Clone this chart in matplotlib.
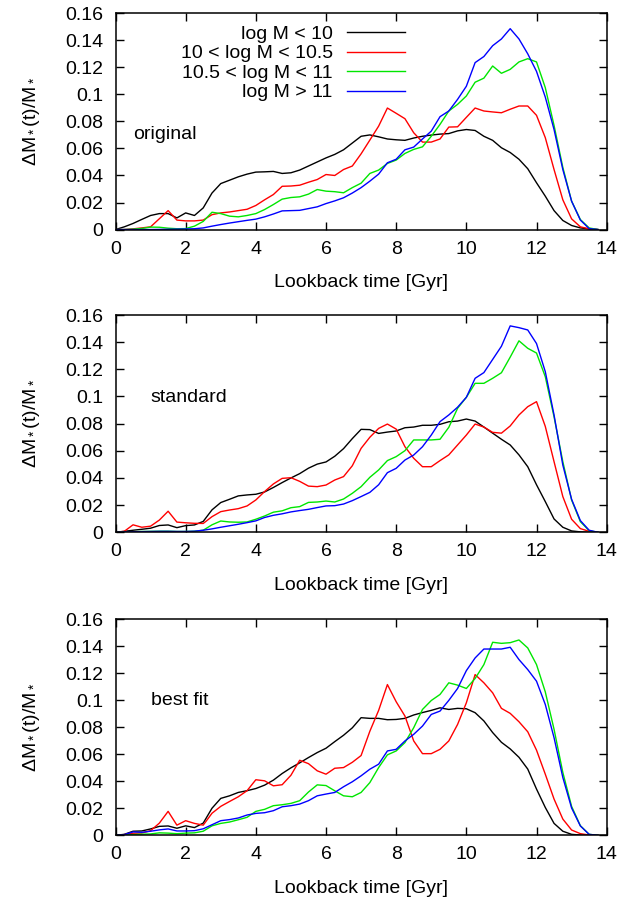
"""
Star formation histories per stellar mass bin - three model variants
"""

import matplotlib
matplotlib.use('Agg')
import matplotlib.pyplot as plt
from matplotlib.ticker import FormatStrFormatter, MultipleLocator

# lookback time grid [Gyr]
lookback = [0.0, 0.25, 0.5, 0.75, 1.0, 1.25, 1.5, 1.75, 2.0, 2.25, 2.5, 2.75,
            3.0, 3.25, 3.5, 3.75, 4.0, 4.25, 4.5, 4.75, 5.0, 5.25, 5.5, 5.75,
            6.0, 6.25, 6.5, 6.75, 7.0, 7.25, 7.5, 7.75, 8.0, 8.25, 8.5, 8.75,
            9.0, 9.25, 9.5, 9.75, 10.0, 10.25, 10.5, 10.75, 11.0, 11.25, 11.5,
            11.75, 12.0, 12.25, 12.5, 12.75, 13.0, 13.25, 13.5, 13.75]

mass_bins = ['log M < 10', '10 < log M < 10.5', '10.5 < log M < 11', 'log M > 11']
bin_colors = ['#000000', '#ff0000', '#00e600', '#0000ff']
panel_names = ['original', 'standard', 'best fit']

# --- original ---
orig_lo = [0, 0.002, 0.0045, 0.0075, 0.0104, 0.0118, 0.0118, 0.0086, 0.0123, 0.0104,
           0.016, 0.027, 0.034, 0.0365, 0.039, 0.041, 0.0425, 0.0427, 0.043, 0.0415,
           0.042, 0.044, 0.047, 0.050, 0.053, 0.0556, 0.059, 0.064, 0.069, 0.070,
           0.0686, 0.067, 0.0664, 0.066, 0.0677, 0.069, 0.0699, 0.0706, 0.071, 0.073,
           0.074, 0.0733, 0.069, 0.066, 0.0605, 0.057, 0.052, 0.045, 0.0346, 0.0247,
           0.014, 0.0067, 0.003, 0.0012, 0.0005, 0]
orig_mid = [0, 0, 0.0005, 0.0012, 0.002, 0.008, 0.014, 0.007, 0.0064, 0.0064,
            0.007, 0.011, 0.0123, 0.013, 0.014, 0.015, 0.0178, 0.022, 0.0259, 0.032,
            0.0322, 0.0328, 0.035, 0.037, 0.0407, 0.040, 0.0444, 0.047, 0.056, 0.0662,
            0.0765, 0.0899, 0.086, 0.082, 0.0716, 0.0647, 0.0647, 0.067, 0.0758, 0.076,
            0.083, 0.0899, 0.0877, 0.087, 0.0864, 0.089, 0.0914, 0.0914, 0.0845, 0.068,
            0.0444, 0.022, 0.0079, 0.002, 0.0005, 0]
orig_hi = [0, 0, 0.0003, 0.0008, 0.0018, 0.0017, 0.001, 0.0006, 0.0007, 0.0025,
           0.006, 0.0128, 0.0118, 0.0099, 0.0094, 0.0104, 0.0118, 0.0148, 0.0185, 0.0225,
           0.0237, 0.0242, 0.0262, 0.0296, 0.0284, 0.028, 0.0272, 0.031, 0.0343, 0.0415,
           0.044, 0.0489, 0.0514, 0.0563, 0.0593, 0.0612, 0.069, 0.0778, 0.0877, 0.0926,
           0.0988, 0.109, 0.112, 0.121, 0.1156, 0.1185, 0.124, 0.1264, 0.124, 0.105,
           0.077, 0.046, 0.021, 0.0074, 0.0012, 0]
orig_top = [0, 0, 0, 0, 0, 0.0001, 0.0002, 0.0003, 0.0004, 0.0006,
            0.0012, 0.0025, 0.0037, 0.0048, 0.0058, 0.0068, 0.0077, 0.0094, 0.0115, 0.0138,
            0.014, 0.0142, 0.0155, 0.0168, 0.0192, 0.0212, 0.0235, 0.027, 0.031, 0.0358,
            0.041, 0.0494, 0.052, 0.059, 0.061, 0.067, 0.0728, 0.0835, 0.0877, 0.0963,
            0.106, 0.1235, 0.128, 0.136, 0.141, 0.1486, 0.141, 0.130, 0.117, 0.098,
            0.074, 0.0444, 0.021, 0.007, 0.0007, 0]

# --- standard ---
std_lo = [0, 0.0007, 0.0015, 0.0022, 0.003, 0.005, 0.0054, 0.0034, 0.0049, 0.0054,
          0.008, 0.0165, 0.0219, 0.0243, 0.0268, 0.0275, 0.028, 0.0297, 0.033, 0.0366,
          0.040, 0.0432, 0.0472, 0.0502, 0.0518, 0.056, 0.0616, 0.069, 0.0758, 0.0756,
          0.0728, 0.0738, 0.0746, 0.077, 0.0775, 0.0788, 0.0788, 0.0795, 0.0814, 0.0819,
          0.0834, 0.0819, 0.0775, 0.073, 0.0685, 0.0643, 0.057, 0.0483, 0.035, 0.0226,
          0.0098, 0.0037, 0.001, 0.0003, 0, 0]
std_mid = [0, 0.0007, 0.0055, 0.0037, 0.0045, 0.009, 0.0155, 0.0075, 0.007, 0.0066,
           0.0065, 0.0115, 0.0152, 0.0164, 0.0174, 0.0194, 0.0238, 0.030, 0.0356, 0.0397,
           0.0402, 0.0375, 0.034, 0.0336, 0.0348, 0.0385, 0.041, 0.049, 0.0618, 0.070,
           0.0765, 0.0797, 0.076, 0.063, 0.0545, 0.0483, 0.0483, 0.0528, 0.057, 0.0643,
           0.0716, 0.0797, 0.0775, 0.0736, 0.073, 0.0783, 0.0864, 0.0925, 0.0962, 0.078,
           0.052, 0.0263, 0.0096, 0.0027, 0.0007, 0]
std_hi = [0, 0.0002, 0.0004, 0.0006, 0.0007, 0.0008, 0.0008, 0.0006, 0.0006, 0.0008,
          0.0015, 0.0055, 0.0083, 0.0076, 0.0074, 0.0076, 0.0096, 0.012, 0.0148, 0.0158,
          0.0181, 0.0189, 0.022, 0.0223, 0.023, 0.0223, 0.0245, 0.0287, 0.0336, 0.0405,
          0.0459, 0.0528, 0.0557, 0.0601, 0.068, 0.068, 0.068, 0.0685, 0.0773, 0.0913,
          0.0994, 0.1097, 0.1097, 0.1134, 0.1175, 0.129, 0.141, 0.1355, 0.132, 0.1146,
          0.085, 0.052, 0.0238, 0.0078, 0.0012, 0]
std_top = [0, 0.0002, 0.0004, 0.0005, 0.0006, 0.0007, 0.0007, 0.0006, 0.0006, 0.0008,
           0.0015, 0.0025, 0.0037, 0.0048, 0.0059, 0.0071, 0.0084, 0.0109, 0.0125, 0.0136,
           0.015, 0.016, 0.0169, 0.0182, 0.0194, 0.0196, 0.0208, 0.0233, 0.0263, 0.0294,
           0.035, 0.0439, 0.0471, 0.0532, 0.0569, 0.063, 0.0716, 0.0815, 0.0864, 0.0921,
           0.0994, 0.1134, 0.1176, 0.1273, 0.137, 0.152, 0.1507, 0.149, 0.139, 0.1183,
           0.0864, 0.0495, 0.0243, 0.0086, 0.0015, 0]

# --- best fit ---
fit_lo = [0, 0.0007, 0.003, 0.0032, 0.0047, 0.0066, 0.0069, 0.0052, 0.007, 0.0057,
          0.009, 0.020, 0.0273, 0.0292, 0.0317, 0.033, 0.0346, 0.0371, 0.0408, 0.0457,
          0.0499, 0.0536, 0.0575, 0.0612, 0.0644, 0.0693, 0.074, 0.0795, 0.087, 0.0865,
          0.0865, 0.0855, 0.0857, 0.0865, 0.089, 0.0908, 0.0924, 0.0943, 0.0931, 0.0939,
          0.0936, 0.0907, 0.0846, 0.076, 0.0688, 0.0639, 0.0577, 0.049, 0.0342, 0.0206,
          0.0088, 0.003, 0.0007, 0.0002, 0, 0]
fit_mid = [0, 0.0005, 0.0015, 0.0017, 0.0034, 0.009, 0.0177, 0.0075, 0.0108, 0.0088,
           0.0075, 0.0163, 0.0214, 0.025, 0.0285, 0.033, 0.0411, 0.0403, 0.0366, 0.0374,
           0.0444, 0.0555, 0.053, 0.0477, 0.0452, 0.0496, 0.0501, 0.054, 0.059, 0.077,
           0.0924, 0.1115, 0.0988, 0.0882, 0.0698, 0.0604, 0.0604, 0.0636, 0.0698, 0.082,
           0.098, 0.1189, 0.1128, 0.1054, 0.0939, 0.0902, 0.084, 0.0766, 0.063, 0.0452,
           0.0268, 0.012, 0.0039, 0.0012, 0.0002, 0]
fit_hi = [0, 0.0002, 0.0005, 0.0008, 0.001, 0.0018, 0.0016, 0.0012, 0.0016, 0.0018,
          0.003, 0.007, 0.0088, 0.0098, 0.0115, 0.0133, 0.0177, 0.0192, 0.0219, 0.0226,
          0.0236, 0.0256, 0.032, 0.0373, 0.0368, 0.0329, 0.0292, 0.0285, 0.0317, 0.039,
          0.0501, 0.0595, 0.0624, 0.0686, 0.0796, 0.0931, 0.0997, 0.1042, 0.1128, 0.1111,
          0.1086, 0.116, 0.1263, 0.1428, 0.142, 0.1425, 0.1445, 0.1386, 0.1263, 0.1061,
          0.0784, 0.0465, 0.0214, 0.0071, 0.0007, 0]
fit_top = [0, 0.0005, 0.0025, 0.0022, 0.003, 0.004, 0.0047, 0.0032, 0.0032, 0.0034,
           0.0048, 0.0078, 0.0108, 0.0116, 0.0128, 0.015, 0.0162, 0.0167, 0.0182, 0.0211,
           0.0219, 0.0231, 0.0256, 0.0292, 0.0305, 0.0317, 0.0359, 0.0396, 0.044, 0.0489,
           0.0526, 0.0624, 0.0636, 0.0698, 0.0747, 0.0808, 0.0894, 0.0919, 0.0998, 0.1086,
           0.1218, 0.1312, 0.1378, 0.1378, 0.1378, 0.1391, 0.13, 0.1226, 0.114, 0.0968,
           0.0722, 0.0428, 0.0202, 0.0069, 0.0007, 0]

panel_series = [
    [orig_lo, orig_mid, orig_hi, orig_top],
    [std_lo, std_mid, std_hi, std_top],
    [fit_lo, fit_mid, fit_hi, fit_top],
]
# where the panel name sits (data coords)
name_pos = [(0.5, 0.070), (1.0, 0.099), (1.0, 0.100)]

FONT = 14


def draw_panel(ax, series, name, pos):
    """One panel: four mass bins vs lookback time"""
    for values, label, color in zip(series, mass_bins, bin_colors):
        ax.plot(lookback, values, color=color, lw=1.0, label=label)

    ax.set_xlim(0, 14)
    ax.set_ylim(0, 0.16)
    ax.xaxis.set_major_locator(MultipleLocator(2))
    ax.yaxis.set_major_locator(MultipleLocator(0.02))
    ax.yaxis.set_major_formatter(FormatStrFormatter('%g'))
    ax.tick_params(direction='in', length=6, width=1.0, top=True, right=True,
                   labelsize=FONT)
    ax.tick_params(axis='y', pad=9)
    ax.tick_params(axis='x', pad=8)
    for spine in ax.spines.values():
        spine.set_linewidth(1.1)

    ax.set_xlabel('Lookback time [Gyr]', fontsize=FONT, labelpad=12)
    ax.set_ylabel(r'$\Delta$M$_*$(t)/M$_*$', fontsize=FONT)
    ax.yaxis.set_label_coords(-0.15, 0.5)
    ax.text(pos[0], pos[1], name, fontsize=FONT, va='center', ha='left')


def main():
    plt.rcParams['font.family'] = ['Liberation Sans', 'DejaVu Sans']
    plt.rcParams['mathtext.fontset'] = 'custom'
    plt.rcParams['mathtext.rm'] = 'Liberation Sans'
    plt.rcParams['mathtext.it'] = 'Liberation Sans'

    fig = plt.figure(figsize=(6.23, 8.97), dpi=100)
    boxes = [
        [0.1854, 0.7441, 0.7884, 0.2411],
        [0.1854, 0.4066, 0.7884, 0.2422],
        [0.1854, 0.0688, 0.7884, 0.2411],
    ]

    axes = []
    for box, series, name, pos in zip(boxes, panel_series, panel_names, name_pos):
        ax = fig.add_axes(box)
        draw_panel(ax, series, name, pos)
        axes.append(ax)

    # gnuplot-style key: right aligned text, sample line after it
    axes[0].legend(loc='upper right', bbox_to_anchor=(0.589, 0.945),
                   frameon=False, markerfirst=False, fontsize=FONT,
                   handlelength=2.95, handletextpad=0.75, borderpad=0,
                   borderaxespad=0, labelspacing=0.1)

    fig.savefig('out.png', dpi=100)
    plt.close(fig)


if __name__ == "__main__":
    main()
